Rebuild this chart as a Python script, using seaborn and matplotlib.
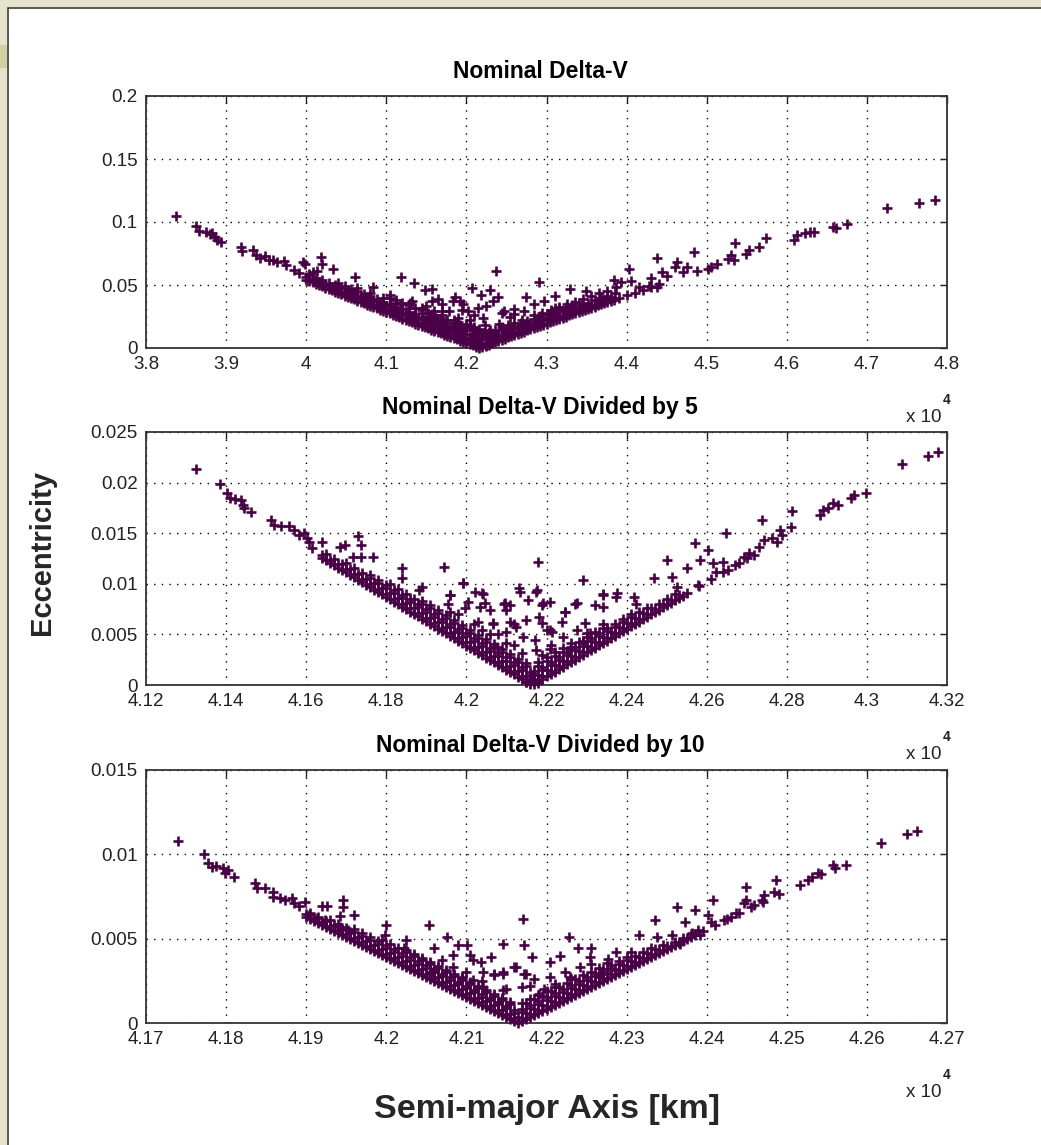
import matplotlib
matplotlib.use("Agg")
import matplotlib.pyplot as plt
from matplotlib.ticker import MultipleLocator, FuncFormatter
from matplotlib.patches import Rectangle
from matplotlib.lines import Line2D
import pandas as pd
import seaborn as sns

# ---------------------------------------------------------------------------
# Final orbits: semi-major axis [km] and eccentricity
# ---------------------------------------------------------------------------
sma_nominal = [
    38370, 38620, 38660, 38750, 38800, 38830, 38860, 38890, 38940, 39180,
    39200, 39330, 39370, 39420, 39480, 39530, 39580, 39630, 39720, 39750,
    39850, 39910, 39960, 39990, 40030, 40090, 40190, 40200, 40140, 40330,
    40610, 40840, 41180, 41350, 41480, 41570, 41640, 41700, 41860, 41920,
    42070, 42180, 42300, 42370, 42400, 42590, 42750, 42910, 43100, 43290,
    43490, 41500, 41780, 41950, 42250, 42450, 42550, 42100, 41300, 41050,
    46090, 46130, 46230, 46290, 46340, 46580, 46610, 46750, 45740, 45650,
    45530, 45490, 45350, 45300, 45270, 45340, 45050, 45020, 45130, 44840,
    44880, 44760, 44630, 44600, 44700, 44380, 44440, 44510, 44310, 44380,
    44280, 44150, 44030, 44060, 43930, 43840, 43870, 47250, 47650, 47850,
    40000, 40080, 40160, 40240, 40320, 40400, 40480, 40560, 40640, 40720,
    40800, 40880, 40960, 41040, 41120, 41200, 41280, 41360, 41440, 41520,
    41600, 41680, 41760, 41840, 41920, 42000, 42080, 42160,
    40040, 40120, 40200, 40280, 40360, 40440, 40520, 40600, 40680, 40760,
    40840, 40920, 41000, 41080, 41160, 41240, 41320, 41400, 41480, 41560,
    41640, 41720, 41800, 41880, 41960, 42040, 42120,
    40640, 40800, 40960, 41120, 41280, 41440, 41520, 41600, 41680, 41760,
    41840, 41920, 42000, 42080, 42160, 41700, 41850, 42000, 42100,
    42200, 42280, 42360, 42440, 42520, 42600, 42680, 42760, 42840, 42920,
    43000, 43080, 43160, 43240, 43320, 43400, 43480, 43560, 43640, 43720,
    43800, 43900, 44000, 44100, 44200, 44300, 44400,
    42240, 42320, 42400, 42480, 42560, 42640, 42720, 42800, 42880, 42960,
    43040, 43120, 43200, 43280, 43360, 43440, 43520, 43600, 43680, 43760,
    43860, 42200, 42280, 42360, 42440, 42520, 42600, 42700, 42850, 42120,
    42200, 42240, 42100, 42180, 42140, 42220,
    42950, 43050, 43150, 43250, 43350, 43450, 43550, 43650, 43750, 41600,
    41900, 42050, 42160, 42260, 42300, 42050, 42230,
    40040, 40120, 40200, 40280, 40360, 40440, 40520, 40600, 40680, 40760, 40840, 40920, 41000, 41080, 41160, 41240, 41320, 41400, 41480, 41560, 41640, 41720, 41800, 41880, 41960, 42040, 42120,
    40000, 40080, 40160, 40240, 40320, 40400, 40480, 40560, 40640, 40720, 40800, 40880, 40960, 41040, 41120, 41200, 41280, 41360, 41440, 41520, 41600, 41680, 41760, 41840, 41920, 42000, 42080, 42160,
    40400, 40480, 40560, 40640, 40720, 40800, 40880, 40960, 41040, 41120, 41200, 41280, 41360, 41440, 41520, 41600, 41680, 41760, 41840, 41920, 42000, 42080, 42160,
    41040, 41120, 41200, 41280, 41360, 41440, 41520, 41600, 41680, 41760, 41840, 41920, 42000, 42080, 42160,
    42240, 42320, 42400, 42480, 42560, 42640, 42720, 42800, 42880, 42960, 43040, 43120, 43200, 43280, 43360, 43440, 43520, 43600, 43680, 43760, 43840,
    42200, 42280, 42360, 42440, 42520, 42600, 42680, 42760, 42840, 42920, 43000, 43080, 43160, 43240, 43320, 43400, 43480, 43560, 43640, 43720, 43800,
    42200, 42280, 42360, 42440, 42520, 42600, 42680, 42760, 42840, 42920, 43000, 43080, 43160, 43240, 43320, 43400,
    41572, 41699, 41827, 41891, 42018, 42146, 42209, 42337, 42465, 42592,
    42720, 42401, 42082, 41827, 41636, 41954, 41572, 41444, 42847, 42975,
    43102, 41317, 41189, 42146, 42305,
]
ecc_nominal = [
    .1045, .0968, .0930, .0917, .0901, .0909, .0882, .0861, .0842, .0802,
    .0772, .0775, .0735, .0712, .0727, .0697, .0701, .0684, .0688, .0657,
    .0617, .0596, .0682, .0668, .0585, .0602, .0722, .0668, .0611, .0628,
    .0567, .0481, .0567, .0513, .0460, .0468, .0388, .0348, .0401, .0374,
    .0476, .0422, .0460, .0615, .0401, .0307, .0401, .0521, .0414, .0468,
    .0455, .0330, .0290, .0300, .0330, .0280, .0250, .0260, .0360, .0420,
    .0861, .0896, .0909, .0917, .0917, .0963, .0949, .0981, .0874, .0802,
    .0775, .0749, .0834, .0735, .0709, .0695, .0642, .0628, .0668, .0762,
    .0615, .0642, .0682, .0642, .0602, .0717, .0602, .0575, .0556, .0487,
    .0495, .0481, .0628, .0535, .0521, .0540, .0487, .1115, .1150, .1175,
    .0541, .0520, .0499, .0478, .0457, .0437, .0416, .0395, .0375, .0355,
    .0334, .0314, .0294, .0274, .0254, .0234, .0214, .0194, .0175, .0155,
    .0136, .0116, .0097, .0077, .0058, .0039, .0020, .0001,
    .0580, .0559, .0539, .0518, .0497, .0476, .0456, .0435, .0415, .0394,
    .0374, .0354, .0334, .0314, .0294, .0274, .0254, .0234, .0215, .0195,
    .0176, .0156, .0137, .0118, .0099, .0080, .0060,
    .0475, .0434, .0394, .0354, .0314, .0275, .0255, .0236, .0216, .0197,
    .0177, .0158, .0139, .0120, .0101, .0261, .0226, .0189, .0165,
    .0009, .0027, .0046, .0065, .0084, .0102, .0121, .0139, .0158, .0176,
    .0194, .0212, .0231, .0249, .0267, .0285, .0302, .0320, .0338, .0356,
    .0373, .0395, .0417, .0439, .0461, .0482, .0504,
    .0068, .0087, .0106, .0124, .0143, .0162, .0180, .0199, .0217, .0235,
    .0253, .0271, .0290, .0308, .0326, .0344, .0361, .0379, .0397, .0415,
    .0437, .0109, .0127, .0146, .0165, .0184, .0202, .0226, .0260, .0030,
    .0040, .0020, .0080, .0070, .0110, .0120,
    .0281, .0303, .0325, .0347, .0369, .0390, .0411, .0433, .0452, .0290,
    .0210, .0178, .0150, .0100, .0140, .0220, .0180,
    .0530, .0509, .0489, .0468, .0447, .0426, .0406, .0385, .0365, .0344, .0324, .0304, .0284, .0264, .0244, .0224, .0204, .0184, .0165, .0145, .0126, .0106, .0087, .0068, .0049, .0030, .0010,
    .0566, .0545, .0524, .0503, .0482, .0462, .0441, .0420, .0400, .0380, .0359, .0339, .0319, .0299, .0279, .0259, .0239, .0219, .0200, .0180, .0161, .0141, .0122, .0102, .0083, .0064, .0045, .0026,
    .0512, .0491, .0470, .0450, .0430, .0409, .0389, .0369, .0349, .0329, .0309, .0289, .0269, .0250, .0230, .0211, .0191, .0172, .0152, .0133, .0114, .0095, .0076,
    .0399, .0379, .0359, .0339, .0319, .0300, .0280, .0261, .0241, .0222, .0202, .0183, .0164, .0145, .0126,
    .0018, .0037, .0056, .0074, .0093, .0112, .0130, .0149, .0167, .0185, .0203, .0221, .0240, .0258, .0276, .0294, .0312, .0329, .0347, .0365, .0382,
    .0034, .0052, .0071, .0090, .0109, .0127, .0146, .0164, .0183, .0201, .0219, .0237, .0256, .0274, .0292, .0310, .0327, .0345, .0363, .0381, .0398,
    .0084, .0102, .0121, .0140, .0159, .0177, .0196, .0214, .0233, .0251, .0269, .0287, .0306, .0324, .0342, .0360,
    .0374, .0294, .0374, .0241, .0294, .0321, .0241, .0374, .0294, .0267,
    .0294, .0187, .0160, .0160, .0214, .0348, .0267, .0321, .0348, .0374,
    .0321, .0374, .0348, .0134, .0120,
]

sma_div5 = [
    41324, 41385, 41402, 41410, 41423, 41436, 41442, 41445, 41461, 41512,
    41519, 41538, 41557, 41570, 41583, 41595, 41602, 41608, 41615, 41640,
    41685, 41697, 41729, 41736, 41717, 41736, 41768, 41838, 41840, 41944,
    41889, 41882, 41959, 41953, 42004, 41991, 42042, 42035, 42093, 42108,
    42131, 42176, 42180, 42189, 42150, 42182, 42208, 42118, 42067, 42246,
    42271, 42291, 42322, 42342, 42373, 42418, 42424, 42469, 42501, 42514,
    42527, 42552, 42571, 42584, 42578, 42603, 42616, 42622, 42641, 42648,
    42654, 42680, 42692, 42705, 42718, 42731, 42737, 42743, 42763, 42775,
    42782, 42788, 42810, 42813, 42884, 42890, 42903, 42916, 42928, 42960,
    42967, 42998, 43088, 43152, 43177,
    41640, 41660, 41680, 41700, 41720, 41740, 41760, 41780, 41800, 41820,
    41840, 41860, 41880, 41900, 41920, 41940, 41960, 41980, 42000, 42020,
    42040, 42060, 42080, 42100, 42120, 42140, 42160,
    41650, 41670, 41690, 41710, 41730, 41750, 41770, 41790, 41810, 41830,
    41850, 41870, 41890, 41910, 41930, 41950, 41970, 41990, 42010, 42030,
    42050, 42070, 42090, 42110, 42130, 42150,
    41760, 41780, 41800, 41820, 41840, 41860, 41880, 41900, 41920, 41940,
    41960, 41980, 42000, 42020, 42040, 42060, 42080, 42100, 42120, 42140,
    42160, 41890, 41910, 41930, 41950, 41970, 41990, 42010, 42030, 42050,
    42070, 42090, 42110, 42130, 42150, 41980, 42020, 42060, 42100, 42140,
    42170, 42190, 42210, 42230, 42250, 42270, 42290, 42310, 42330, 42350,
    42370, 42390, 42410, 42430, 42450, 42470, 42490, 42510, 42530, 42550,
    42580, 42610, 42640, 42670, 42700,
    42180, 42200, 42220, 42240, 42260, 42280, 42300, 42320, 42340, 42360,
    42380, 42400, 42420, 42440, 42460, 42480, 42500, 42520, 42170, 42190,
    42210, 42230, 42250, 42270, 42290, 42310, 42330, 42350, 42370, 42390,
    42410, 42180, 42200, 42220, 42240, 42260, 42300, 42340, 42150, 42165,
    42180, 42190, 42210, 42120, 42080,
    41650, 41670, 41690, 41710, 41730, 41750, 41770, 41790, 41810, 41830, 41850, 41870, 41890, 41910, 41930, 41950, 41970, 41990, 42010, 42030, 42050, 42070, 42090, 42110, 42130, 42150,
    41640, 41660, 41680, 41700, 41720, 41740, 41760, 41780, 41800, 41820, 41840, 41860, 41880, 41900, 41920, 41940, 41960, 41980, 42000, 42020, 42040, 42060, 42080, 42100, 42120, 42140, 42160,
    41700, 41720, 41740, 41760, 41780, 41800, 41820, 41840, 41860, 41880, 41900, 41920, 41940, 41960, 41980, 42000, 42020, 42040, 42060, 42080, 42100, 42120, 42140, 42160,
    41810, 41830, 41850, 41870, 41890, 41910, 41930, 41950, 41970, 41990, 42010, 42030, 42050, 42070, 42090, 42110, 42130, 42150,
    42180, 42200, 42220, 42240, 42260, 42280, 42300, 42320, 42340, 42360, 42380, 42400, 42420, 42440, 42460, 42480, 42500, 42520, 42540,
    42170, 42190, 42210, 42230, 42250, 42270, 42290, 42310, 42330, 42350, 42370, 42390, 42410, 42430, 42450, 42470, 42490, 42510, 42530,
    42170, 42190, 42210, 42230, 42250, 42270, 42290, 42310, 42330, 42350, 42370, 42390, 42410, 42430, 42450,
    42180, 42200, 42220, 42240, 42260, 42280, 42300, 42320, 42340,
    41992, 42021, 42038, 42046, 42059, 42096, 42100, 42134, 42154, 42175,
    42191, 42208, 42246, 42238, 42275, 42296, 42309, 42341, 42375, 42341,
    42109, 42125, 42142, 42100, 42188, 42200, 42213, 42171, 42242, 41959,
    41959, 41996, 42029, 42038, 42067, 42076, 42175, 42208, 42259, 42275,
    42292,
]
ecc_div5 = [
    .02136, .01987, .01897, .01848, .01838, .01831, .01781, .01748, .01705, .01632,
    .01583, .01573, .01573, .01533, .01483, .01500, .01450, .01417, .01351, .01417,
    .01368, .01384, .01474, .01384, .01268, .01268, .01268, .01152, .01053, .01169,
    .00970, .00937, .00887, .00805, .00821, .01010, .00904, .00772, .00805, .00788,
    .00954, .00937, .01219, .00788, .00639, .00672, .00540, .00606, .00606, .00722,
    .00805, .01036, .00788, .00904, .00871, .00871, .00805, .01053, .01235, .01070,
    .00970, .01152, .01407, .01235, .00987, .01334, .01202, .01119, .01219, .01500,
    .01136, .01202, .01268, .01301, .01285, .01368, .01632, .01434, .01450, .01417,
    .01533, .01483, .01566, .01715, .01682, .01732, .01748, .01798, .01781, .01848,
    .01881, .01897, .02179, .02262, .02301,
    .01258, .01210, .01161, .01113, .01064, .01016, .00967, .00919, .00871, .00823,
    .00774, .00726, .00678, .00630, .00582, .00534, .00486, .00438, .00390, .00343,
    .00295, .00247, .00200, .00152, .00104, .00057, .00009,
    .01294, .01246, .01197, .01149, .01100, .01052, .01003, .00955, .00907, .00859,
    .00810, .00762, .00714, .00666, .00618, .00570, .00522, .00474, .00427, .00379,
    .00331, .00283, .00236, .00188, .00141, .00093,
    .01087, .01039, .00991, .00943, .00894, .00846, .00798, .00750, .00702, .00654,
    .00606, .00558, .00510, .00463, .00415, .00367, .00320, .00272, .00224, .00177,
    .00129, .00834, .00786, .00738, .00690, .00642, .00594, .00547, .00499, .00451,
    .00403, .00356, .00308, .00261, .00213, .00698, .00603, .00507, .00412, .00317,
    .00014, .00062, .00109, .00156, .00204, .00251, .00298, .00345, .00392, .00439,
    .00486, .00533, .00580, .00627, .00674, .00720, .00767, .00814, .00861, .00907,
    .00977, .01047, .01116, .01186, .01255,
    .00098, .00145, .00193, .00240, .00287, .00334, .00382, .00429, .00476, .00523,
    .00570, .00617, .00663, .00710, .00757, .00804, .00851, .00897, .00134, .00182,
    .00229, .00276, .00324, .00371, .00418, .00465, .00512, .00559, .00606, .00653,
    .00700, .00227, .00275, .00322, .00369, .00416, .00512, .00606, .00033, .00060,
    .00020, .00300, .00400, .00400, .00500,
    .01234, .01186, .01137, .01089, .01040, .00992, .00943, .00895, .00847, .00799, .00750, .00702, .00654, .00606, .00558, .00510, .00462, .00414, .00367, .00319, .00271, .00223, .00176, .00128, .00081, .00033,
    .01288, .01240, .01191, .01143, .01094, .01046, .00997, .00949, .00901, .00853, .00804, .00756, .00708, .00660, .00612, .00564, .00516, .00468, .00420, .00373, .00325, .00277, .00230, .00182, .00134, .00087, .00039,
    .01203, .01154, .01106, .01057, .01009, .00961, .00913, .00864, .00816, .00768, .00720, .00672, .00624, .00576, .00528, .00480, .00433, .00385, .00337, .00290, .00242, .00194, .00147, .00099,
    .00997, .00949, .00900, .00852, .00804, .00756, .00708, .00660, .00612, .00564, .00517, .00469, .00421, .00373, .00326, .00278, .00231, .00183,
    .00038, .00085, .00133, .00180, .00227, .00274, .00322, .00369, .00416, .00463, .00510, .00557, .00603, .00650, .00697, .00744, .00791, .00837, .00884,
    .00044, .00092, .00139, .00186, .00234, .00281, .00328, .00375, .00422, .00469, .00516, .00563, .00610, .00657, .00704, .00750, .00797, .00844, .00891,
    .00104, .00152, .00199, .00246, .00294, .00341, .00388, .00435, .00482, .00529, .00576, .00623, .00670, .00717, .00764,
    .00188, .00235, .00283, .00330, .00377, .00424, .00472, .00519, .00566,
    .01010, .00920, .00910, .00810, .00740, .00810, .00740, .00920, .00840, .00920,
    .00810, .00820, .00720, .00620, .00810, .00610, .00510, .00890, .00910, .00770,
    .00620, .00570, .00470, .00520, .00610, .00540, .00520, .00440, .00470, .00890,
    .00720, .00760, .00620, .00540, .00610, .00380, .00350, .00360, .00350, .00540,
    .00430,
]

sma_div10 = [
    41740, 41772, 41778, 41783, 41788, 41796, 41799, 41802, 41810, 41836,
    41839, 41849, 41858, 41859, 41867, 41873, 41882, 41885, 41891, 41899,
    41903, 41914, 41920, 41926, 41923, 41942, 41946, 41946, 41960, 41942,
    41952, 42000, 41998, 42053, 42076, 42025, 42022, 42060, 42089, 42101,
    42083, 42105, 42108, 42131, 42146, 42171, 42172, 42182, 42159, 42146,
    42172, 42134, 42099, 42204, 42217, 42228, 42239, 42255, 42254, 42277,
    42287, 42306, 42315, 42335, 42338, 42357, 42363, 42373, 42386, 42389,
    42367, 42382, 42392, 42402, 42405, 42408, 42421, 42430, 42437, 42446,
    42449, 42449, 42459, 42469, 42472, 42484, 42486, 42516, 42526, 42532,
    42539, 42543, 42558, 42560, 42574, 42618, 42650, 42662,
    41900, 41910, 41920, 41930, 41940, 41950, 41960, 41970, 41980, 41990,
    42000, 42010, 42020, 42030, 42040, 42050, 42060, 42070, 42080, 42090,
    42100, 42110, 42120, 42130, 42140, 42150, 42160,
    41905, 41915, 41925, 41935, 41945, 41955, 41965, 41975, 41985, 41995,
    42005, 42015, 42025, 42035, 42045, 42055, 42065, 42075, 42085, 42095,
    42105, 42115, 42125, 42135, 42145, 42155,
    41960, 41970, 41980, 41990, 42000, 42010, 42020, 42030, 42040, 42050,
    42060, 42070, 42080, 42090, 42100, 42110, 42120, 42130, 42140, 42150,
    42160, 42025, 42035, 42045, 42055, 42065, 42075, 42085, 42095, 42105,
    42115, 42125, 42135, 42145, 42155,
    42170, 42180, 42190, 42200, 42210, 42220, 42230, 42240, 42250, 42260,
    42270, 42280, 42290, 42300, 42310, 42320, 42330, 42340, 42350, 42360,
    42370, 42380, 42395, 42410, 42425, 42440, 42455, 42470, 42490,
    42165, 42175, 42185, 42195, 42205, 42215, 42225, 42235, 42245, 42255,
    42265, 42275, 42285, 42295, 42305, 42315, 42325, 42335, 42345, 42170,
    42180, 42190, 42200, 42210, 42220, 42230, 42240, 42250, 42260, 42270,
    42280, 42290, 42300, 42170, 42180, 42190, 42200, 42210, 42230, 42164,
    42150, 42180, 42120,
    41905, 41915, 41925, 41935, 41945, 41955, 41965, 41975, 41985, 41995, 42005, 42015, 42025, 42035, 42045, 42055, 42065, 42075, 42085, 42095, 42105, 42115, 42125, 42135, 42145, 42155,
    41900, 41910, 41920, 41930, 41940, 41950, 41960, 41970, 41980, 41990, 42000, 42010, 42020, 42030, 42040, 42050, 42060, 42070, 42080, 42090, 42100, 42110, 42120, 42130, 42140, 42150, 42160,
    41930, 41940, 41950, 41960, 41970, 41980, 41990, 42000, 42010, 42020, 42030, 42040, 42050, 42060, 42070, 42080, 42090, 42100, 42110, 42120, 42130, 42140, 42150, 42160,
    41995, 42005, 42015, 42025, 42035, 42045, 42055, 42065, 42075, 42085, 42095, 42105, 42115, 42125, 42135, 42145, 42155,
    42175, 42185, 42195, 42205, 42215, 42225, 42235, 42245, 42255, 42265, 42275, 42285, 42295, 42305, 42315, 42325, 42335, 42345, 42355, 42365, 42375, 42385,
    42170, 42180, 42190, 42200, 42210, 42220, 42230, 42240, 42250, 42260, 42270, 42280, 42290, 42300, 42310, 42320, 42330, 42340, 42350, 42360, 42370, 42380,
    42170, 42180, 42190, 42200, 42210, 42220, 42230, 42240, 42250, 42260, 42270, 42280, 42290, 42300, 42310, 42320, 42330,
    42175, 42185, 42195, 42205, 42215, 42225, 42235, 42245, 42255, 42265, 42275,
    42118, 42121, 42134, 42146, 42162, 42175, 42185, 42169, 42204, 42210,
    42223, 42229, 42191, 42197, 42146, 42121, 42108, 42095, 42242, 42255,
    42083, 42070, 42057, 42268, 42280,
]
ecc_div10 = [
    .01079, .01000, .00950, .00927, .00931, .00917, .00891, .00907, .00863, .00828,
    .00798, .00798, .00778, .00745, .00739, .00729, .00739, .00709, .00693, .00719,
    .00640, .00620, .00693, .00693, .00610, .00634, .00729, .00689, .00640, .00570,
    .00550, .00580, .00521, .00580, .00511, .00491, .00442, .00442, .00461, .00461,
    .00402, .00402, .00372, .00392, .00471, .00614, .00461, .00392, .00333, .00293,
    .00293, .00283, .00303, .00362, .00396, .00511, .00442, .00442, .00392, .00382,
    .00422, .00422, .00521, .00610, .00511, .00521, .00689, .00600, .00669, .00550,
    .00471, .00531, .00521, .00640, .00600, .00729, .00610, .00630, .00650, .00709,
    .00808, .00729, .00699, .00729, .00758, .00778, .00848, .00818, .00848, .00867,
    .00887, .00883, .00937, .00917, .00937, .01069, .01121, .01141,
    .00630, .00606, .00582, .00558, .00534, .00510, .00486, .00462, .00438, .00414,
    .00390, .00367, .00343, .00319, .00295, .00271, .00247, .00223, .00200, .00176,
    .00152, .00128, .00104, .00081, .00057, .00033, .00009,
    .00653, .00629, .00605, .00581, .00557, .00533, .00509, .00485, .00461, .00437,
    .00413, .00389, .00366, .00342, .00318, .00294, .00270, .00246, .00223, .00199,
    .00175, .00151, .00128, .00104, .00080, .00056,
    .00556, .00532, .00508, .00484, .00460, .00437, .00413, .00389, .00365, .00341,
    .00317, .00293, .00270, .00246, .00222, .00198, .00174, .00151, .00127, .00103,
    .00079, .00435, .00411, .00387, .00364, .00340, .00316, .00292, .00269, .00245,
    .00221, .00197, .00174, .00150, .00126,
    .00014, .00038, .00062, .00085, .00109, .00133, .00156, .00180, .00204, .00227,
    .00251, .00274, .00298, .00322, .00345, .00369, .00392, .00416, .00439, .00463,
    .00486, .00510, .00545, .00580, .00615, .00650, .00685, .00720, .00767,
    .00037, .00061, .00085, .00109, .00132, .00156, .00180, .00203, .00227, .00251,
    .00274, .00298, .00322, .00345, .00369, .00392, .00416, .00439, .00462, .00084,
    .00108, .00132, .00155, .00179, .00203, .00226, .00250, .00274, .00297, .00321,
    .00344, .00368, .00392, .00119, .00143, .00167, .00190, .00214, .00261, .00000,
    .00200, .00220, .00250,
    .00618, .00594, .00570, .00546, .00522, .00498, .00474, .00450, .00426, .00402, .00378, .00354, .00331, .00307, .00283, .00259, .00235, .00211, .00188, .00164, .00140, .00116, .00093, .00069, .00045, .00021,
    .00648, .00624, .00600, .00576, .00552, .00528, .00504, .00480, .00456, .00432, .00408, .00385, .00361, .00337, .00313, .00289, .00265, .00241, .00218, .00194, .00170, .00146, .00122, .00099, .00075, .00051, .00027,
    .00611, .00587, .00563, .00539, .00515, .00491, .00467, .00443, .00420, .00396, .00372, .00348, .00324, .00300, .00276, .00253, .00229, .00205, .00181, .00157, .00134, .00110, .00086, .00062,
    .00492, .00468, .00444, .00421, .00397, .00373, .00349, .00325, .00301, .00278, .00254, .00230, .00206, .00183, .00159, .00135, .00111,
    .00026, .00050, .00073, .00097, .00121, .00145, .00168, .00192, .00215, .00239, .00263, .00286, .00310, .00333, .00357, .00381, .00404, .00427, .00451, .00474, .00498, .00521,
    .00032, .00056, .00080, .00103, .00127, .00151, .00174, .00198, .00222, .00245, .00269, .00292, .00316, .00340, .00363, .00387, .00410, .00434, .00457, .00481, .00504, .00528,
    .00067, .00091, .00115, .00138, .00162, .00186, .00209, .00233, .00257, .00280, .00304, .00327, .00351, .00375, .00398, .00422, .00445,
    .00116, .00140, .00163, .00187, .00211, .00235, .00258, .00282, .00305, .00329, .00353,
    .00362, .00303, .00293, .00303, .00333, .00293, .00263, .00214, .00273, .00234,
    .00303, .00273, .00174, .00204, .00194, .00214, .00253, .00273, .00333, .00352,
    .00333, .00372, .00303, .00293, .00313,
]

panel_titles = [
    "Nominal Delta-V",
    "Nominal Delta-V Divided by 5",
    "Nominal Delta-V Divided by 10",
]
x_limits = [(38000, 48000), (41200, 43200), (41700, 42700)]
x_steps = [1000, 200, 100]
y_limits = [(0, 0.2), (0, 0.025), (0, 0.015)]
y_steps = [0.05, 0.005, 0.005]

# ---------------------------------------------------------------------------
sns.set_theme(style="white")
plt.rcParams["font.family"] = ["Liberation Sans", "DejaVu Sans"]

W, H = 1041, 1145
MARK = "#4a0046"
fig = plt.figure(figsize=(W / 100, H / 100), dpi=100, facecolor="white")

# window frame along the top and left edges
beige = "#e6e3cc"
fig.add_artist(Rectangle((0, 1 - 7 / H), 1, 7 / H, transform=fig.transFigure,
                         facecolor=beige, edgecolor="none", zorder=0))
fig.add_artist(Rectangle((0, 0), 7 / W, 1, transform=fig.transFigure,
                         facecolor=beige, edgecolor="none", zorder=0))
fig.add_artist(Rectangle((0, 1 - 68 / H), 7 / W, 23 / H, transform=fig.transFigure,
                         facecolor="#d2cfa2", edgecolor="none", zorder=0))
fig.add_artist(Line2D([7.5 / W, 1], [1 - 7.5 / H, 1 - 7.5 / H], transform=fig.transFigure,
                      color="#3c3c3c", linewidth=1.2))
fig.add_artist(Line2D([7.5 / W, 7.5 / W], [0, 1 - 7.5 / H], transform=fig.transFigure,
                      color="#3c3c3c", linewidth=1.2))

# axes boxes in pixels: (left, top, right, bottom)
boxes = [(146, 96, 947, 348), (146, 432, 947, 685), (146, 770, 947, 1023)]
series = [(sma_nominal, ecc_nominal), (sma_div5, ecc_div5), (sma_div10, ecc_div10)]

for i, ((l, t, r, b), (sma, ecc)) in enumerate(zip(boxes, series)):
    ax = fig.add_axes([l / W, 1 - b / H, (r - l) / W, (b - t) / H])
    df = pd.DataFrame({"sma": sma, "ecc": ecc})
    sns.scatterplot(data=df, x="sma", y="ecc", ax=ax, marker="+", s=58,
                    color=MARK, linewidth=1.9, clip_on=False, legend=False, zorder=3)
    ax.set_xlim(*x_limits[i])
    ax.set_ylim(*y_limits[i])
    ax.xaxis.set_major_locator(MultipleLocator(x_steps[i]))
    ax.yaxis.set_major_locator(MultipleLocator(y_steps[i]))
    ax.xaxis.set_major_formatter(FuncFormatter(lambda v, p: f"{v / 1e4:g}"))
    ax.yaxis.set_major_formatter(FuncFormatter(lambda v, p: f"{v:g}"))
    ax.set_xlabel("")
    ax.set_ylabel("")
    ax.set_axisbelow(True)
    ax.grid(True, color="black", linestyle=(0, (1, 4.5)), linewidth=1.0)
    ax.tick_params(direction="in", length=5, width=1.0, top=True, right=True,
                   labelsize=13.5, colors="#222222")
    ax.tick_params(axis="x", pad=6)
    ax.tick_params(axis="y", pad=6)
    for sp in ax.spines.values():
        sp.set_color("#333333")
        sp.set_linewidth(1.3)
    ax.set_title(panel_titles[i], fontsize=16.5, fontweight="bold", pad=13,
                 color="black", x=0.492)

    # exponent note under the right end of the x axis
    fig.text(942 / W, 1 - (b + 74) / H, "x 10", fontsize=13.5, ha="right",
             va="baseline", color="#222222")
    fig.text(943 / W, 1 - (b + 56) / H, "4", fontsize=10, ha="left",
             va="baseline", color="#222222", fontweight="bold")

fig.text(50 / W, 1 - 552 / H, "Eccentricity", fontsize=21, fontweight="bold",
         rotation=90, rotation_mode="anchor", ha="center", va="baseline")
fig.text(547 / W, 1 - 1118 / H, "Semi-major Axis [km]", fontsize=24.5,
         fontweight="bold", ha="center", va="baseline")

fig.savefig("out.png", dpi=100, facecolor="white")
